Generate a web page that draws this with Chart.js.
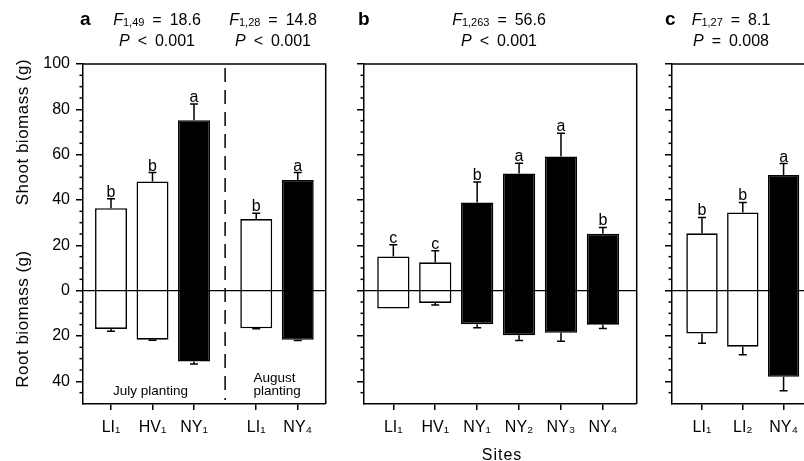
<!DOCTYPE html>
<html><head><meta charset="utf-8">
<script src="https://cdn.jsdelivr.net/npm/chart.js@4"></script>
<style>
html,body{margin:0;padding:0;background:#fff;}
body{width:804px;height:461px;overflow:hidden;position:relative;font-family:"Liberation Sans",Arial,Helvetica,sans-serif;color:#000;}
canvas{position:absolute;top:0;}
.t{position:absolute;font-size:16px;line-height:20.3px;text-align:center;white-space:nowrap;}
.stat{width:160px;word-spacing:3.5px;}
.sub{font-size:11px;position:relative;top:1px;word-spacing:0;}
.pl{position:absolute;font-size:13.5px;line-height:12.5px;white-space:nowrap;}
.lt{position:absolute;font-size:19px;font-weight:bold;line-height:20.3px;}
.yt{position:absolute;width:220px;height:20px;font-size:17px;letter-spacing:0.5px;line-height:20px;text-align:center;transform:rotate(-90deg);white-space:nowrap;}
</style></head>
<body>
<canvas id="pa" width="340" height="461" style="left:0"></canvas>
<canvas id="pb" width="300" height="461" style="left:340px"></canvas>
<canvas id="pc" width="200" height="461" style="left:640px"></canvas>

<div class="lt" style="left:80px;top:9px">a</div>
<div class="lt" style="left:358px;top:9px">b</div>
<div class="lt" style="left:665px;top:9px">c</div>
<div class="t stat" style="left:77px;top:10px"><i>F</i><span class="sub">1,49</span> = 18.6<br><i>P</i> &lt; 0.001</div>
<div class="t stat" style="left:193px;top:10px"><i>F</i><span class="sub">1,28</span> = 14.8<br><i>P</i> &lt; 0.001</div>
<div class="t stat" style="left:419px;top:10px"><i>F</i><span class="sub">1,263</span> = 56.6<br><i>P</i> &lt; 0.001</div>
<div class="t stat" style="left:651px;top:10px"><i>F</i><span class="sub">1,27</span> = 8.1<br><i>P</i> = 0.008</div>

<div class="yt" style="left:-87px;top:122px">Shoot biomass (g)</div>
<div class="yt" style="left:-87px;top:309px">Root biomass (g)</div>

<div class="pl" style="left:113px;top:384.6px">July planting</div>
<div class="pl" style="left:253.5px;top:372.4px">August<br>planting</div>
<div class="t" style="left:452px;top:444.5px;width:100px;line-height:20px;letter-spacing:1px">Sites</div>

<script>
// ---------- data ----------
// Panel a
const sitesA    = ['LI₁','HV₁','NY₁','LI₁','NY₄'];
const plantingA = [0, 0, 0, 1, 1];            // 0 = July planting, 1 = August planting
const shootA    = [36.4, 48.2, 75.2, 31.6, 48.8];
const shootErrA = [4.1, 3.9, 7.2, 2.6, 3.3];
const rootA     = [16.9, 21.6, 31.3, 16.6, 21.7];
const rootErrA  = [1.0, 0.3, 1.0, 0.2, 0.3];
const lettersA  = ['b','b','a','b','a'];

// Panel b
const sitesB    = ['LI₁','HV₁','NY₁','NY₂','NY₃','NY₄'];
const shootB    = [15.1, 12.5, 38.9, 51.7, 59.2, 25.1];
const shootErrB = [5.2, 5.1, 9.0, 4.5, 10.3, 2.8];
const rootB     = [7.9, 5.4, 14.8, 19.7, 18.6, 15.0];
const rootErrB  = [0, 0.9, 1.6, 2.3, 3.7, 1.7];
const lettersB  = ['c','c','b','a','a','b'];

// Panel c
const sitesC    = ['LI₁','LI₂','NY₄'];
const shootC    = [25.3, 34.5, 51.0];
const shootErrC = [7.0, 4.4, 5.1];
const rootC     = [18.9, 24.7, 38.0];
const rootErrC  = [4.3, 3.6, 6.2];
const lettersC  = ['b','b','a'];

// Axis ticks (root biomass plotted downward, labelled as positive)
const yMajorTicks = [100, 80, 60, 40, 20, 0, -20, -40];
const yMinorStep = 5;
const yMin = -50, yMax = 100;

// ---------- drawing ----------
const FONT = '"Liberation Sans", Arial, Helvetica, sans-serif';
Chart.defaults.font.family = FONT;
Chart.defaults.color = '#000';
const LW = 1.5;

function makePanel(id, o) {
  const group = o.group || o.sites.map(() => 0);
  const pos = o.sites.map((s, i) => i + 1 + group[i] * 0.5);
  const data = pos.map((x, i) => ({x: x, y: [-o.root[i], o.shoot[i]]}));
  const fills = o.sites.map(s => s.startsWith('NY') ? '#000' : '#fff');

  const extras = {
    id: 'extras_' + id,
    afterDatasetsDraw(chart) {
      const c = chart.ctx, xs = chart.scales.x, ys = chart.scales.y, a = chart.chartArea;
      c.save();
      c.strokeStyle = '#000'; c.fillStyle = '#000'; c.lineWidth = LW;
      // zero line
      const y0 = ys.getPixelForValue(0);
      c.beginPath(); c.moveTo(a.left, y0); c.lineTo(a.right, y0); c.lineWidth = 1.1; c.stroke();
      c.lineWidth = LW;
      // frame top / right
      c.beginPath(); c.moveTo(a.left, a.top); c.lineTo(a.right + 0.7, a.top);
      if (o.rightBorder) { c.lineTo(a.right + 0.7, a.bottom); }
      c.stroke();
      // minor ticks
      for (let v = yMin + yMinorStep; v < yMax; v += yMinorStep) {
        if (yMajorTicks.includes(v)) continue;
        const yy = ys.getPixelForValue(v);
        c.beginPath(); c.moveTo(a.left - 3.5, yy); c.lineTo(a.left, yy); c.stroke();
      }
      // error bars and letters
      const cap = 4;
      c.font = '16px ' + FONT; c.textAlign = 'center'; c.textBaseline = 'alphabetic';
      pos.forEach((x, i) => {
        const px = xs.getPixelForValue(x);
        const ys1 = ys.getPixelForValue(o.shoot[i]), ys2 = ys.getPixelForValue(o.shoot[i] + o.shootErr[i]);
        if (o.shootErr[i] > 0) {
          c.beginPath(); c.moveTo(px, ys1); c.lineTo(px, ys2);
          c.moveTo(px - cap, ys2); c.lineTo(px + cap, ys2); c.stroke();
        }
        const yr1 = ys.getPixelForValue(-o.root[i]), yr2 = ys.getPixelForValue(-(o.root[i] + o.rootErr[i]));
        if (o.rootErr[i] > 0) {
          c.beginPath(); c.moveTo(px, yr1); c.lineTo(px, yr2);
          c.moveTo(px - cap, yr2); c.lineTo(px + cap, yr2); c.stroke();
        }
        c.fillText(o.letters[i], px, ys2 - 2);
      });
      // divider between planting dates
      if (o.group) {
        const lastJuly = pos[group.lastIndexOf(0)], firstAug = pos[group.indexOf(1)];
        const dx = xs.getPixelForValue((lastJuly + firstAug) / 2);
        c.setLineDash([14, 8]);
        c.beginPath(); c.moveTo(dx, a.top + 4); c.lineTo(dx, a.bottom - 4); c.stroke();
        c.setLineDash([]);
      }
      c.restore();
    }
  };

  return new Chart(document.getElementById(id), {
    type: 'bar',
    data: {datasets: [{
      data: data,
      backgroundColor: fills,
      borderColor: '#000',
      borderWidth: 1.6,
      borderSkipped: false,
      barPercentage: 0.77,
      categoryPercentage: 1
    }]},
    options: {
      responsive: false, animation: false, events: [],
      layout: {padding: {left: 0, right: o.padRight, top: 64, bottom: 0}},
      plugins: {legend: {display: false}, tooltip: {enabled: false}},
      scales: {
        x: {
          type: 'linear', min: o.xMin, max: o.xMax, offset: false,
          afterBuildTicks: s => { s.ticks = pos.map(v => ({value: v})); },
          afterFit: s => { s.height = 57; },
          ticks: {autoSkip: false, maxRotation: 0, color: '#000', font: {size: 16}, padding: 8,
                  callback: v => { const i = pos.indexOf(v); return i >= 0 ? o.sites[i] : ''; }},
          grid: {display: true, offset: false, drawOnChartArea: false, drawTicks: true, tickLength: 6, color: '#000', lineWidth: LW},
          border: {display: true, color: '#000', width: LW}
        },
        y: {
          min: yMin, max: yMax,
          afterBuildTicks: s => { s.ticks = yMajorTicks.map(v => ({value: v})); },
          afterFit: s => { s.width = o.yWidth; },
          ticks: {autoSkip: false, color: '#000', font: {size: 16}, padding: 6,
                  callback: v => o.showLabels ? String(Math.abs(v)) : ''},
          grid: {display: true, offset: false, drawOnChartArea: false, drawTicks: true, tickLength: 7, color: '#000', lineWidth: LW},
          border: {display: true, color: '#000', width: LW}
        }
      }
    },
    plugins: [extras]
  });
}

makePanel('pa', {sites: sitesA, group: plantingA, shoot: shootA, shootErr: shootErrA, root: rootA, rootErr: rootErrA,
  letters: lettersA, xMin: 0.325, xMax: 6.157, yWidth: 83, padRight: 15, showLabels: true, rightBorder: true});
makePanel('pb', {sites: sitesB, shoot: shootB, shootErr: shootErrB, root: rootB, rootErr: rootErrB,
  letters: lettersB, xMin: 0.30, xMax: 6.79, yWidth: 24, padRight: 4, showLabels: false, rightBorder: true});
makePanel('pc', {sites: sitesC, shoot: shootC, shootErr: shootErrC, root: rootC, rootErr: rootErrC,
  letters: lettersC, xMin: 0.265, xMax: 4.383, yWidth: 32, padRight: 0, showLabels: false, rightBorder: false});
</script>
</body></html>
